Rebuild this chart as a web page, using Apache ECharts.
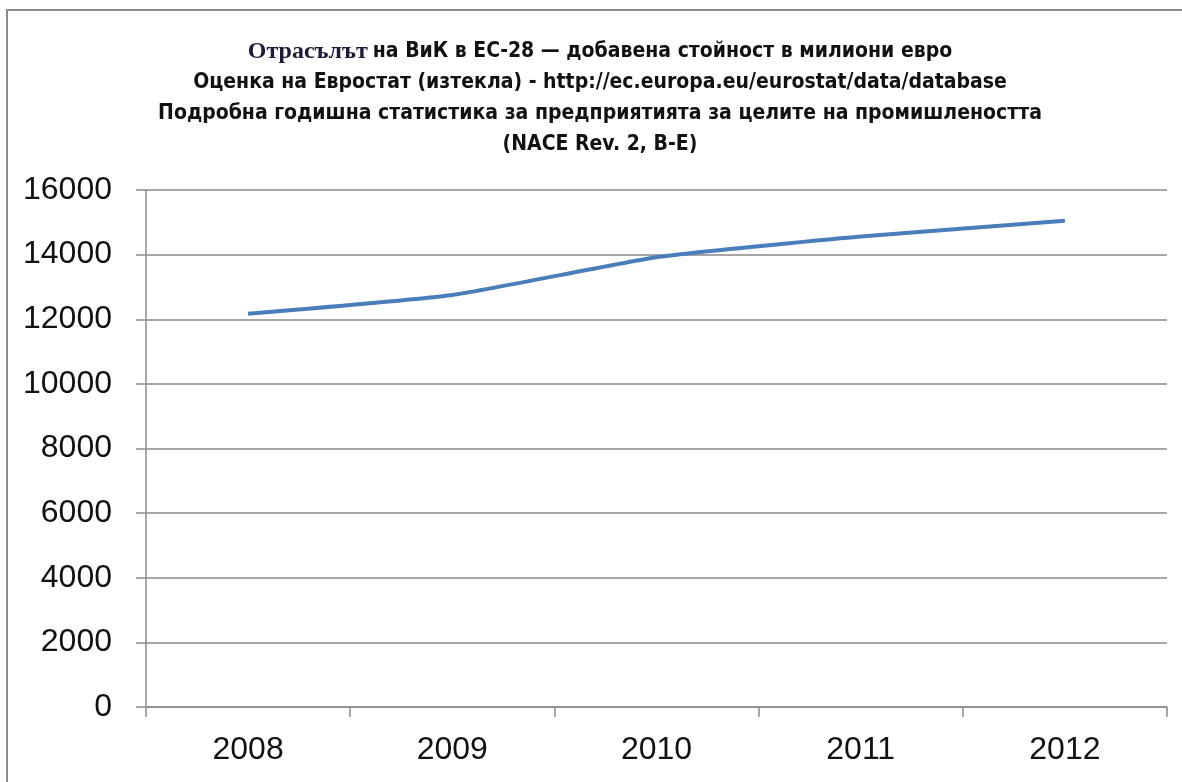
<!DOCTYPE html>
<html>
<head>
<meta charset="utf-8">
<script src="https://cdn.jsdelivr.net/npm/echarts@6/dist/echarts.min.js"></script>
<style>
  html, body { margin: 0; padding: 0; background: #fff; }
  #chart { width: 1182px; height: 782px; }
</style>
</head>
<body>
<div id="chart"></div>
<script>
const years = ['2008', '2009', '2010', '2011', '2012']
const addedValue = [12170, 12750, 13920, 14560, 15050]
const yTicks = { min: 0, max: 16000, interval: 2000 }

const titleLines = [
  '{s|Отрасълът} {b|на ВиК в ЕС-28 — добавена стойност в милиони евро}',
  '{b|Оценка на Евростат (изтекла) - http://ec.europa.eu/eurostat/data/database}',
  '{b|Подробна годишна статистика за предприятията за целите на промишлеността}',
  '{b|(NACE Rev. 2, B-E)}'
]

const chart = echarts.init(document.getElementById('chart'))
const labelFont = "'Liberation Sans', Arial, sans-serif"
const titleFont = "'Liberation Sans Narrow', 'DejaVu Sans Condensed', sans-serif"

chart.setOption({
  animation: false,
  backgroundColor: '#fff',
  graphic: [{
    type: 'rect',
    shape: { x: 7, y: 10, width: 1220, height: 820 },
    style: { fill: 'none', stroke: '#8c8c8c', lineWidth: 2 },
    silent: true
  }],
  title: {
    left: 595,
    top: 31,
    textAlign: 'center',
    text: titleLines.join('\n'),
    textStyle: {
      rich: {
        s: { fontFamily: "'Liberation Serif', serif", fontWeight: 'bold', fontSize: 24, color: '#1c1c38', lineHeight: 31 },
        b: { fontFamily: titleFont, fontWeight: 'bold', fontSize: 21, color: '#111', lineHeight: 31 }
      }
    }
  },
  grid: { left: 146, right: 15, top: 190, bottom: 75 },
  xAxis: {
    type: 'category',
    data: years,
    boundaryGap: true,
    axisLine: { lineStyle: { color: '#8c8c8c', width: 1.5 } },
    axisTick: { show: true, length: 10, lineStyle: { color: '#8c8c8c', width: 1.5 } },
    axisLabel: { color: '#111', fontSize: 32, fontFamily: labelFont, margin: 27 }
  },
  yAxis: {
    type: 'value',
    min: yTicks.min,
    max: yTicks.max,
    interval: yTicks.interval,
    axisLine: { show: true, lineStyle: { color: '#8c8c8c', width: 1.5 } },
    axisTick: { show: true, length: 10, lineStyle: { color: '#8c8c8c', width: 1.5 } },
    axisLabel: { color: '#111', fontSize: 32, fontFamily: labelFont, margin: 34, formatter: v => String(v) },
    splitLine: { lineStyle: { color: '#a6a6a6', width: 2 } }
  },
  series: [{
    type: 'line',
    data: addedValue,
    smooth: 0.15,
    symbol: 'none',
    lineStyle: { color: '#4a7ebb', width: 4 }
  }]
})
</script>
</body>
</html>
